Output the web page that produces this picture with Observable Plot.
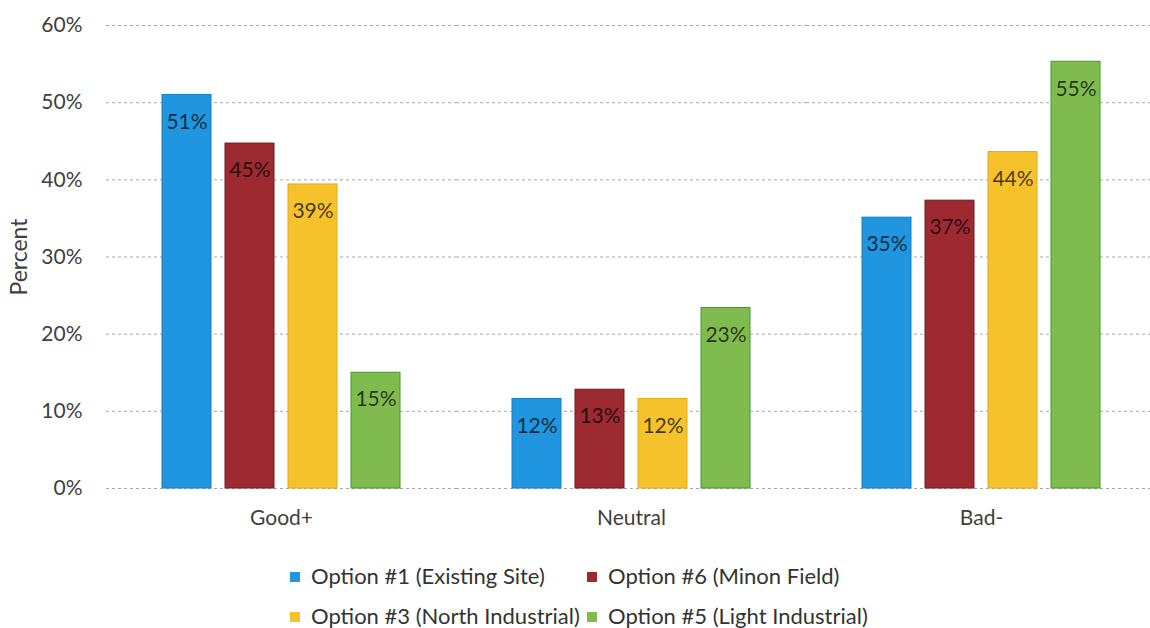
<!DOCTYPE html>
<html>
<head>
<meta charset="utf-8">
<script src="https://cdn.jsdelivr.net/npm/d3@7"></script>
<script src="https://cdn.jsdelivr.net/npm/@observablehq/plot@0.6"></script>
<style>
  html, body { margin: 0; padding: 0; background: #fff; overflow: hidden; }
  #chart { width: 1150px; }
  g[aria-label="y-axis label"] text { font-size: 23px; }
  .legend { display: grid; grid-template-columns: 297px auto; row-gap: 0; margin-left: 290px; padding-top: 21px;
            font-family: Lato, "Open Sans", sans-serif; font-size: 22px; color: #333; }
  .legend .item { height: 40px; line-height: 40px; white-space: nowrap; }
  .legend .sw { display: inline-block; width: 10px; height: 10px; margin-right: 11px; vertical-align: middle; position: relative; top: -1px; }
</style>
</head>
<body>
<div id="chart"></div>
<script>
const categories = ["Good+", "Neutral", "Bad-"];
const options = ["Option #1 (Existing Site)", "Option #6 (Minon Field)", "Option #3 (North Industrial)", "Option #5 (Light Industrial)"];
const fillColors = ["#1f96df", "#9c2a30", "#f5c22c", "#80bb50"];
const strokeColors = ["#1a7fc4", "#6e1c20", "#e0ac1a", "#3f9a2a"];
// values (percent) per option, in category order
const option1 = [51.0, 11.6, 35.1];
const option6 = [44.7, 12.8, 37.3];
const option3 = [39.4, 11.6, 43.6];
const option5 = [15.0, 23.4, 55.3];
const yTicks = [0, 10, 20, 30, 40, 50, 60];

const series = [option1, option6, option3, option5];
const data = [];
categories.forEach((c, ci) => {
  options.forEach((o, oi) => {
    data.push({cat: c, opt: o, value: series[oi][ci], fill: fillColors[oi], stroke: strokeColors[oi]});
  });
});

const chart = Plot.plot({
  width: 1150,
  height: 535,
  marginLeft: 106,
  marginRight: -6,
  marginTop: 25,
  marginBottom: 47,
  style: {fontFamily: "Lato, 'Open Sans', sans-serif", fontSize: "21px", color: "#404040", background: "#fff"},
  fx: {domain: categories, padding: 0, axis: "bottom", tickSize: 0, tickPadding: 22, label: null},
  x: {domain: options, paddingInner: 0.219, paddingOuter: 0.844, axis: null},
  y: {domain: [0, 60], ticks: yTicks, tickFormat: d => d + "%", tickSize: 0, tickPadding: 24,
      label: "Percent", labelAnchor: "center", labelOffset: 96, labelArrow: "none"},
  color: {type: "identity"},
  marks: [
    Plot.ruleY(yTicks, {stroke: "#a8a8a8", strokeWidth: 1, strokeDasharray: "3 3"}),
    Plot.barY(data, {fx: "cat", x: "opt", y: "value", fill: "fill", stroke: "stroke", strokeWidth: 1}),
    Plot.text(data, {fx: "cat", x: "opt", y: "value", text: d => Math.round(d.value) + "%", dy: 27,
      fontSize: 21, fill: "#000", fillOpacity: 0.72})
  ]
});
document.getElementById("chart").appendChild(chart);

const legend = document.createElement("div");
legend.className = "legend";
[0, 1, 2, 3].forEach(i => {
  const item = document.createElement("div");
  item.className = "item";
  const sw = document.createElement("span");
  sw.className = "sw";
  sw.style.background = fillColors[i];
  item.appendChild(sw);
  item.appendChild(document.createTextNode(options[i]));
  legend.appendChild(item);
});
document.body.appendChild(legend);
</script>
</body>
</html>
